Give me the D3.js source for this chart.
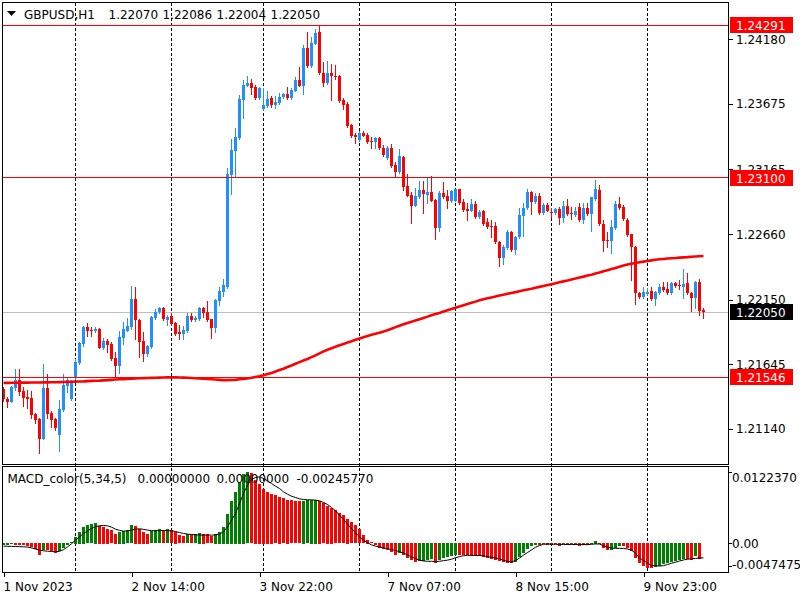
<!DOCTYPE html>
<html><head><meta charset="utf-8">
<script src="https://cdn.jsdelivr.net/npm/d3@7"></script>
<style>html,body{margin:0;padding:0;background:#fff;}svg{display:block;}</style>
</head><body>
<svg id="c" width="800" height="600"></svg>
<script>
// ---------------- DATA ----------------
const symbol = "GBPUSD,H1";
const quote = ["1.22070", "1.22086", "1.22004", "1.22050"];
const macdTitle = "MACD_color(5,34,5)";
const macdQuote = ["0.00000000", "0.00000000", "-0.00245770"];

const open = [
1.21453,1.21377,1.21353,1.21463,1.21523,1.21437,1.21392,1.21385,1.21258,1.21219,
1.21063,1.21463,1.21263,1.21219,1.21094,1.21289,1.21478,1.21375,1.21544,1.21658,
1.21804,1.21938,1.21913,1.21905,1.21921,1.21775,1.21827,1.21804,1.21692,1.21632,
1.21853,1.21907,1.21938,1.22155,1.21991,1.21827,1.21726,1.21778,1.22009,1.22051,
1.22087,1.21991,1.22024,1.21970,1.21899,1.21882,1.21907,1.22022,1.21991,1.21999,
1.22087,1.22055,1.21999,1.21932,1.22141,1.22211,1.22250,1.23122,1.23311,1.23408,
1.23707,1.23818,1.23842,1.23810,1.23725,1.23637,1.23660,1.23725,1.23668,1.23686,
1.23728,1.23754,1.23725,1.23777,1.23863,1.23818,1.24115,1.23974,1.24144,1.24235,
1.23915,1.23842,1.23915,1.23896,1.23894,1.23707,1.23676,1.23512,1.23434,1.23395,
1.23447,1.23434,1.23389,1.23377,1.23408,1.23335,1.23257,1.23335,1.23200,1.23147,
1.23264,1.23038,1.22966,1.22882,1.22952,1.23005,1.22966,1.22991,1.22927,1.22711,
1.22984,1.22958,1.22919,1.22921,1.23013,1.22913,1.22859,1.22843,1.22896,1.22796,
1.22843,1.22757,1.22724,1.22724,1.22601,1.22477,1.22555,1.22679,1.22537,1.22636,
1.22802,1.22862,1.22991,1.22913,1.22958,1.22828,1.22888,1.22835,1.22828,1.22854,
1.22789,1.22880,1.22828,1.22810,1.22870,1.22771,1.22867,1.22815,1.22934,1.23005,
1.22737,1.22615,1.22609,1.22706,1.22896,1.22874,1.22771,1.22659,1.22562,1.22204,
1.22172,1.22194,1.22219,1.22155,1.22199,1.22250,1.22233,1.22199,1.22282,1.22264,
1.22250,1.22282,1.22204,1.22165,1.22289,1.22070];

const high = [
1.21468,1.21390,1.21476,1.21609,1.21609,1.21470,1.21445,1.21439,1.21265,1.21226,
1.21648,1.21570,1.21283,1.21226,1.21367,1.21567,1.21538,1.21523,1.21687,1.21821,
1.21946,1.21970,1.21938,1.21936,1.21928,1.21848,1.21840,1.21821,1.21743,1.21907,
1.21973,1.22004,1.22256,1.22250,1.21995,1.21899,1.21796,1.22018,1.22077,1.22094,
1.22094,1.22030,1.22043,1.21977,1.21952,1.21946,1.22043,1.22048,1.22018,1.22092,
1.22092,1.22139,1.22002,1.22158,1.22250,1.22311,1.23174,1.23403,1.23491,1.23746,
1.23863,1.23894,1.23868,1.23824,1.23810,1.23798,1.23777,1.23738,1.23738,1.23759,
1.23764,1.23810,1.23798,1.23888,1.23966,1.24136,1.24235,1.24200,1.24261,1.24291,
1.24001,1.24011,1.23985,1.23980,1.23898,1.23720,1.23693,1.23516,1.23447,1.23465,
1.23465,1.23447,1.23420,1.23420,1.23416,1.23356,1.23348,1.23364,1.23225,1.23322,
1.23270,1.23130,1.22987,1.23018,1.23075,1.23075,1.23104,1.23114,1.22931,1.22997,
1.23069,1.23005,1.23005,1.23016,1.23016,1.22932,1.22901,1.22934,1.22919,1.22849,
1.22849,1.22784,1.22771,1.22757,1.22607,1.22576,1.22693,1.22685,1.22646,1.22862,
1.22901,1.23010,1.22997,1.22984,1.22984,1.22901,1.22901,1.22862,1.22862,1.22870,
1.22921,1.22934,1.22870,1.22870,1.22901,1.22901,1.22901,1.22952,1.23083,1.23044,
1.22771,1.22679,1.22771,1.22921,1.22948,1.22888,1.22789,1.22665,1.22568,1.22211,
1.22246,1.22238,1.22246,1.22213,1.22269,1.22285,1.22285,1.22289,1.22289,1.22303,
1.22386,1.22355,1.22209,1.22295,1.22308,1.22086];

const low = [
1.21359,1.21314,1.21351,1.21445,1.21406,1.21322,1.21304,1.21224,1.21185,1.20951,
1.21059,1.21229,1.21154,1.21133,1.20971,1.21281,1.21429,1.21367,1.21531,1.21648,
1.21788,1.21868,1.21868,1.21897,1.21772,1.21768,1.21743,1.21679,1.21544,1.21575,
1.21801,1.21905,1.21921,1.21843,1.21704,1.21673,1.21710,1.21772,1.22002,1.22045,
1.21991,1.21952,1.21952,1.21874,1.21843,1.21843,1.21901,1.21983,1.21983,1.21991,
1.22016,1.21983,1.21854,1.21899,1.22108,1.22180,1.22244,1.22974,1.23108,1.23403,
1.23569,1.23812,1.23754,1.23712,1.23718,1.23629,1.23652,1.23654,1.23647,1.23679,
1.23722,1.23712,1.23718,1.23773,1.23812,1.23754,1.23968,1.23968,1.24140,1.23910,
1.23818,1.23835,1.23707,1.23868,1.23691,1.23634,1.23494,1.23416,1.23374,1.23387,
1.23422,1.23375,1.23330,1.23330,1.23328,1.23270,1.23250,1.23186,1.23108,1.23141,
1.23005,1.22954,1.22750,1.22876,1.22946,1.22828,1.22901,1.22915,1.22620,1.22687,
1.22946,1.22867,1.22913,1.22915,1.22899,1.22841,1.22771,1.22837,1.22790,1.22790,
1.22732,1.22708,1.22640,1.22595,1.22414,1.22425,1.22548,1.22529,1.22506,1.22630,
1.22646,1.22857,1.22815,1.22907,1.22821,1.22821,1.22837,1.22794,1.22821,1.22737,
1.22757,1.22810,1.22779,1.22802,1.22763,1.22750,1.22810,1.22685,1.22927,1.22732,
1.22529,1.22562,1.22516,1.22701,1.22860,1.22771,1.22646,1.22303,1.22116,1.22165,
1.22166,1.22186,1.22147,1.22108,1.22194,1.22217,1.22194,1.22194,1.22248,1.22230,
1.22165,1.22194,1.22061,1.22087,1.22030,1.22004];

const close = [
1.21375,1.21353,1.21470,1.21523,1.21431,1.21385,1.21377,1.21250,1.21211,1.21063,
1.21463,1.21258,1.21211,1.21146,1.21297,1.21484,1.21523,1.21499,1.21665,1.21814,
1.21938,1.21907,1.21905,1.21921,1.21775,1.21829,1.21793,1.21687,1.21632,1.21856,
1.21918,1.21944,1.22155,1.21991,1.21821,1.21726,1.21788,1.22012,1.22055,1.22087,
1.21996,1.22016,1.21960,1.21882,1.21882,1.21913,1.22024,1.21991,1.22009,1.22087,
1.22048,1.21991,1.21932,1.22147,1.22217,1.22264,1.23130,1.23317,1.23416,1.23715,
1.23824,1.23842,1.23798,1.23725,1.23798,1.23668,1.23715,1.23668,1.23693,1.23732,
1.23754,1.23725,1.23785,1.23863,1.23818,1.24115,1.23974,1.24154,1.24227,1.23915,
1.23842,1.23915,1.23896,1.23884,1.23699,1.23668,1.23504,1.23426,1.23420,1.23447,
1.23428,1.23381,1.23381,1.23408,1.23335,1.23278,1.23335,1.23192,1.23147,1.23270,
1.23030,1.22960,1.22882,1.22958,1.23005,1.22974,1.22991,1.22921,1.22711,1.22984,
1.22952,1.22921,1.22997,1.23010,1.22906,1.22849,1.22843,1.22896,1.22796,1.22835,
1.22740,1.22714,1.22718,1.22601,1.22477,1.22562,1.22679,1.22537,1.22640,1.22810,
1.22867,1.22991,1.22913,1.22958,1.22828,1.22888,1.22843,1.22831,1.22854,1.22789,
1.22882,1.22818,1.22815,1.22841,1.22771,1.22867,1.22818,1.22948,1.23010,1.22737,
1.22609,1.22609,1.22714,1.22893,1.22867,1.22776,1.22654,1.22562,1.22199,1.22172,
1.22211,1.22211,1.22155,1.22207,1.22250,1.22225,1.22199,1.22282,1.22256,1.22256,
1.22272,1.22199,1.22165,1.22289,1.22063,1.22050];

// moving average (red line)
const movingAverage = [
1.21500,1.21500,1.21501,1.21501,1.21502,1.21502,1.21502,1.21503,1.21503,1.21503,
1.21504,1.21504,1.21505,1.21505,1.21506,1.21507,1.21508,1.21509,1.21510,1.21511,
1.21512,1.21514,1.21516,1.21517,1.21518,1.21520,1.21522,1.21524,1.21526,1.21528,
1.21529,1.21531,1.21533,1.21535,1.21536,1.21537,1.21538,1.21539,1.21540,1.21541,
1.21542,1.21543,1.21544,1.21543,1.21542,1.21541,1.21540,1.21538,1.21536,1.21534,
1.21532,1.21530,1.21528,1.21526,1.21524,1.21522,1.21522,
1.21523,1.21524,1.21528,1.21531,1.21535,1.21540,1.21546,1.21552,1.21560,1.21569,
1.21578,1.21589,1.21600,1.21611,1.21624,1.21636,1.21649,1.21662,1.21675,1.21687,
1.21701,1.21715,1.21730,1.21746,1.21759,1.21771,1.21782,1.21793,1.21804,1.21815,
1.21825,1.21836,1.21847,1.21857,1.21866,1.21875,1.21883,1.21892,1.21901,1.21911,
1.21923,1.21935,1.21946,1.21957,1.21968,1.21977,1.21987,1.21997,1.22007,1.22017,
1.22028,1.22037,1.22046,1.22057,1.22067,1.22076,1.22086,1.22096,1.22106,1.22116,
1.22125,1.22134,1.22144,1.22153,1.22160,1.22167,1.22174,1.22181,1.22188,1.22195,
1.22202,1.22208,1.22215,1.22222,1.22229,1.22235,1.22242,1.22249,1.22256,1.22264,
1.22270,1.22278,1.22285,1.22292,1.22299,1.22307,1.22314,1.22322,1.22329,1.22337,
1.22344,1.22353,1.22361,1.22371,1.22379,1.22388,1.22397,1.22406,1.22415,1.22423,
1.22429,1.22435,1.22441,1.22446,1.22451,1.22456,1.22460,1.22464,1.22467,1.22470,
1.22472,1.22474,1.22477,1.22479,1.22481,1.22484,1.22486,1.22488,1.22490];

// MACD histogram (main line) and signal line
const macdMain = [
-0.00035,-0.00030,-0.00025,-0.00032,-0.00038,-0.00042,-0.00048,-0.00070,-0.00100,-0.00200,
-0.00115,-0.00125,-0.00140,-0.00170,-0.00140,-0.00085,-0.00030,0.00020,0.00115,0.00200,
0.00285,0.00310,0.00330,0.00355,0.00300,0.00285,0.00255,0.00230,0.00170,0.00200,
0.00215,0.00230,0.00310,0.00300,0.00255,0.00200,0.00170,0.00205,0.00230,0.00240,
0.00230,0.00240,0.00230,0.00200,0.00140,0.00125,0.00160,0.00155,0.00160,0.00185,
0.00170,0.00160,0.00125,0.00170,0.00200,0.00285,0.00510,0.00730,0.00885,0.01060,
0.01190,0.012237,0.01200,0.01095,0.01025,0.00940,0.00885,0.00855,0.00825,0.00800,
0.00770,0.00750,0.00740,0.00725,0.00720,0.00730,0.00740,0.00745,0.00750,0.00730,
0.00690,0.00650,0.00610,0.00565,0.00520,0.00480,0.00425,0.00365,0.00310,0.00240,
0.00140,0.00060,0.00025,-0.00030,-0.00083,-0.00100,-0.00123,-0.00157,-0.00197,-0.00168,
-0.00197,-0.00254,-0.00294,-0.00328,-0.00311,-0.00305,-0.00288,-0.00271,-0.00339,-0.00288,
-0.00260,-0.00237,-0.00220,-0.00197,-0.00203,-0.00208,-0.00214,-0.00220,-0.00225,-0.00231,
-0.00242,-0.00260,-0.00277,-0.00288,-0.00311,-0.00328,-0.00339,-0.00345,-0.00317,-0.00242,
-0.00168,-0.00100,-0.00054,-0.00026,-0.00031,-0.00014,-0.00026,-0.00031,-0.00014,-0.00043,
-0.00020,-0.00026,-0.00014,-0.00026,-0.00043,-0.00026,-0.00031,-0.00014,0.00043,-0.00014,
-0.00083,-0.00123,-0.00115,-0.00083,-0.00043,-0.00050,-0.00083,-0.00140,-0.00254,-0.00339,
-0.00396,-0.00425,-0.00431,-0.00408,-0.00396,-0.00368,-0.00339,-0.00328,-0.00305,-0.00294,
-0.00275,-0.00280,-0.00285,-0.00230,-0.00270,null];

const macdSignal = [
-0.00046,-0.00048,-0.00050,-0.00052,-0.00055,-0.00057,-0.00062,-0.00075,-0.00095,-0.00115,
-0.00125,-0.00132,-0.00137,-0.00142,-0.00135,-0.00105,-0.00060,-0.00005,0.00055,0.00114,
0.00170,0.00217,0.00255,0.00285,0.00305,0.00308,0.00302,0.00280,0.00245,0.00225,
0.00211,0.00215,0.00228,0.00245,0.00251,0.00242,0.00228,0.00220,0.00217,0.00220,
0.00222,0.00220,0.00217,0.00205,0.00188,0.00172,0.00160,0.00153,0.00148,0.00145,
0.00143,0.00143,0.00143,0.00148,0.00160,0.00200,0.00285,0.00400,0.00513,0.00685,
0.00856,0.00998,0.01095,0.01130,0.01141,0.01112,0.01072,0.01027,0.00981,0.00941,
0.00884,0.00844,0.00810,0.00787,0.00764,0.00753,0.00747,0.00747,0.00742,0.00730,
0.00702,0.00667,0.00616,0.00559,0.00485,0.00411,0.00331,0.00257,0.00183,0.00114,
0.00057,0.00011,-0.00023,-0.00046,-0.00060,-0.00075,-0.00090,-0.00105,-0.00120,-0.00140,
-0.00165,-0.00195,-0.00230,-0.00260,-0.00285,-0.00300,-0.00305,-0.00305,-0.00310,-0.00305,
-0.00295,-0.00285,-0.00270,-0.00245,-0.00225,-0.00210,-0.00203,-0.00203,-0.00203,-0.00205,
-0.00212,-0.00225,-0.00237,-0.00248,-0.00260,-0.00290,-0.00305,-0.00317,-0.00290,-0.00250,
-0.00200,-0.00155,-0.00111,-0.00065,-0.00035,-0.00015,-0.00008,-0.00012,-0.00014,-0.00016,
-0.00017,-0.00018,-0.00018,-0.00018,-0.00020,-0.00020,-0.00020,-0.00014,-0.00008,-0.00010,
-0.00040,-0.00060,-0.00078,-0.00083,-0.00083,-0.00085,-0.00095,-0.00115,-0.00168,-0.00250,
-0.00290,-0.00339,-0.00375,-0.00385,-0.00385,-0.00380,-0.00360,-0.00339,-0.00320,-0.00300,
-0.00282,-0.00270,-0.00262,-0.00255,-0.00250,-0.0024577];

// axes
const priceTicks = [1.24180, 1.23675, 1.23165, 1.22660, 1.22150, 1.21645, 1.21140];
const priceRange = [1.208675, 1.244711];          // visible price extent of the main window
const macdRange = [-0.0047475, 0.0122370];         // MACD window extent
const macdTicks = [0.0122370, 0.0, -0.0047475];
const macdTickLabels = ["0.0122370", "0.00", "-0.0047475"];
const timeTickBars = [0, 32, 64, 96, 128, 160];
const timeTickLabels = ["1 Nov 2023", "2 Nov 14:00", "3 Nov 22:00", "7 Nov 07:00", "8 Nov 15:00", "9 Nov 23:00"];
const dayStartBars = [18, 42, 65, 89, 113, 137, 161];
const levelPrices = [1.24291, 1.23100, 1.21546];
const bidPrice = 1.22050;

// ---------------- DRAW ----------------
const FONT = "'DejaVu Sans', Verdana, sans-serif";
const BULL = "#1E90FF", BEAR = "#FF0000", GREEN = "#008000";
const n = close.length;
const L = 2, R = 728, mainTop = 2, mainBot = 464, subTop = 466, subBot = 572;

const svg = d3.select("#c");
svg.append("rect").attr("width", 800).attr("height", 600).attr("fill", "#fff");

const x = d3.scaleLinear().domain([0, n - 1]).range([3.5, 3.5 + 4 * (n - 1)]);
const y = d3.scaleLinear().domain(priceRange).range([mainBot, mainTop]);
const ym = d3.scaleLinear().domain(macdRange).range([571.2, 472]);
const snap = v => Math.round(v - 0.5) + 0.5;

// day separators
svg.append("g").selectAll("line").data(dayStartBars).join("line")
  .attr("x1", d => x(d)).attr("x2", d => x(d))
  .attr("y1", mainTop + 1).attr("y2", subBot)
  .attr("stroke", "#000").attr("stroke-width", 1).attr("stroke-dasharray", "3,2")
  .attr("shape-rendering", "crispEdges");

// bid line
svg.append("line").attr("x1", L).attr("x2", R)
  .attr("y1", snap(y(bidPrice))).attr("y2", snap(y(bidPrice)))
  .attr("stroke", "#c0c0c0").attr("stroke-width", 1).attr("shape-rendering", "crispEdges");

// candles
const bars = d3.range(n).map(i => ({i, o: open[i], h: high[i], l: low[i], c: close[i]}));
const cg = svg.append("g").attr("shape-rendering", "crispEdges");
cg.selectAll("line").data(bars).join("line")
  .attr("x1", d => x(d.i)).attr("x2", d => x(d.i))
  .attr("y1", d => Math.round(y(d.h))).attr("y2", d => Math.round(y(d.l)) + 1)
  .attr("stroke", d => d.c >= d.o ? BULL : BEAR).attr("stroke-width", 1);
cg.selectAll("rect").data(bars).join("rect")
  .attr("x", d => x(d.i) - 1.5).attr("width", 3)
  .attr("y", d => Math.round(y(Math.max(d.o, d.c))))
  .attr("height", d => Math.max(1, Math.round(y(Math.min(d.o, d.c))) - Math.round(y(Math.max(d.o, d.c)))))
  .attr("fill", d => d.c >= d.o ? BULL : BEAR);

// moving average
svg.append("path").datum(movingAverage)
  .attr("d", d3.line().x((d, i) => x(i)).y(d => y(d)))
  .attr("fill", "none").attr("stroke", "#FF0000").attr("stroke-width", 2.6);

// MACD histogram
const hg = svg.append("g").attr("shape-rendering", "crispEdges");
const hist = macdMain.map((v, i) => ({i, v, prev: i > 0 ? macdMain[i - 1] : null})).filter(d => d.v !== null);
hg.selectAll("rect").data(hist).join("rect")
  .attr("x", d => x(d.i) - 1.5).attr("width", 3)
  .attr("y", d => Math.round(Math.min(ym(0), ym(d.v))))
  .attr("height", d => Math.max(1, Math.round(Math.abs(ym(d.v) - ym(0)))))
  .attr("fill", d => (d.prev === null || d.v > d.prev) ? GREEN : BEAR);

// signal line
svg.append("path").datum(macdSignal)
  .attr("d", d3.line().x((d, i) => x(i)).y(d => ym(d)))
  .attr("fill", "none").attr("stroke", "#000").attr("stroke-width", 1);

// frames
const fr = svg.append("g").attr("fill", "none").attr("stroke", "#000").attr("shape-rendering", "crispEdges");
fr.append("rect").attr("x", L + 0.5).attr("y", mainTop + 0.5).attr("width", R - L).attr("height", mainBot - mainTop);
fr.append("rect").attr("x", L + 0.5).attr("y", subTop + 0.5).attr("width", R - L).attr("height", subBot - subTop);

// horizontal levels (drawn on top)
svg.append("g").attr("class", "levels").selectAll("line").data(levelPrices).join("line")
  .attr("x1", L + 1).attr("x2", R).attr("y1", d => snap(y(d))).attr("y2", d => snap(y(d)))
  .style("stroke", "rgb(255,0,0)").attr("stroke-width", 1).attr("shape-rendering", "crispEdges");

// price axis
const pa = svg.append("g").attr("transform", `translate(${R + 0.5},0)`)
  .call(d3.axisRight(y).tickValues(priceTicks).tickFormat(d3.format(".5f")).tickSize(4).tickPadding(4));
pa.select(".domain").remove();
pa.selectAll("line").attr("shape-rendering", "crispEdges").attr("stroke", "#000");
pa.selectAll("text").attr("font-family", FONT).attr("font-size", 12).attr("fill", "#000").attr("x", 7.5);

// price tags
const tags = levelPrices.map(p => ({p, fill: "#FF0000"})).concat([{p: bidPrice, fill: "#000"}]);
const tg = svg.append("g");
tg.selectAll("rect").data(tags).join("rect")
  .attr("x", 730).attr("width", 63).attr("y", d => Math.round(y(d.p)) - 8).attr("height", 16)
  .attr("fill", d => d.fill).attr("shape-rendering", "crispEdges");
tg.selectAll("text").data(tags).join("text")
  .attr("x", 736).attr("y", d => Math.round(y(d.p)) + 4.5)
  .attr("font-family", FONT).attr("font-size", 12).attr("fill", "#fff")
  .text(d => d3.format(".5f")(d.p));

// MACD axis
const mAxis = svg.append("g");
mAxis.selectAll("line").data(macdTicks).join("line")
  .attr("x1", R).attr("x2", R + 4)
  .attr("y1", d => snap(Math.min(Math.max(ym(d), 472), 566))).attr("y2", d => snap(Math.min(Math.max(ym(d), 472), 566)))
  .attr("stroke", "#000").attr("shape-rendering", "crispEdges");
mAxis.selectAll("text").data(macdTicks).join("text")
  .attr("x", 732).attr("y", d => Math.min(Math.max(ym(d), 477), 564.5) + 4.5)
  .attr("font-family", FONT).attr("font-size", 12).attr("fill", "#000")
  .text((d, i) => macdTickLabels[i]);

// time axis
const ta = svg.append("g").attr("transform", `translate(0,${subBot + 0.5})`)
  .call(d3.axisBottom(x).tickValues(timeTickBars).tickFormat((d, i) => timeTickLabels[i]).tickSize(4));
ta.select(".domain").remove();
ta.selectAll("line").attr("shape-rendering", "crispEdges").attr("stroke", "#000");
ta.selectAll("text").attr("font-family", FONT).attr("font-size", 12).attr("fill", "#000")
  .attr("text-anchor", "start").attr("x", -0.5).attr("dy", null).attr("y", 18);

// headers
const hd = svg.append("g").attr("font-family", FONT).attr("font-size", 12).attr("fill", "#000");
hd.append("path").attr("d", "M7,11 L16,11 L11.5,16 Z").attr("fill", "#000");
hd.append("text").attr("x", 24).attr("y", 19).text(symbol);
hd.selectAll("text.q").data(quote).join("text").attr("class", "q")
  .attr("x", (d, i) => 108.5 + 54 * i).attr("y", 19).text(d => d);
hd.append("text").attr("x", 7.5).attr("y", 483).text(macdTitle);
hd.selectAll("text.m").data(macdQuote).join("text").attr("class", "m")
  .attr("x", (d, i) => [137.5, 216.5, 296.5][i]).attr("y", 483).text(d => d);
</script>
</body></html>
